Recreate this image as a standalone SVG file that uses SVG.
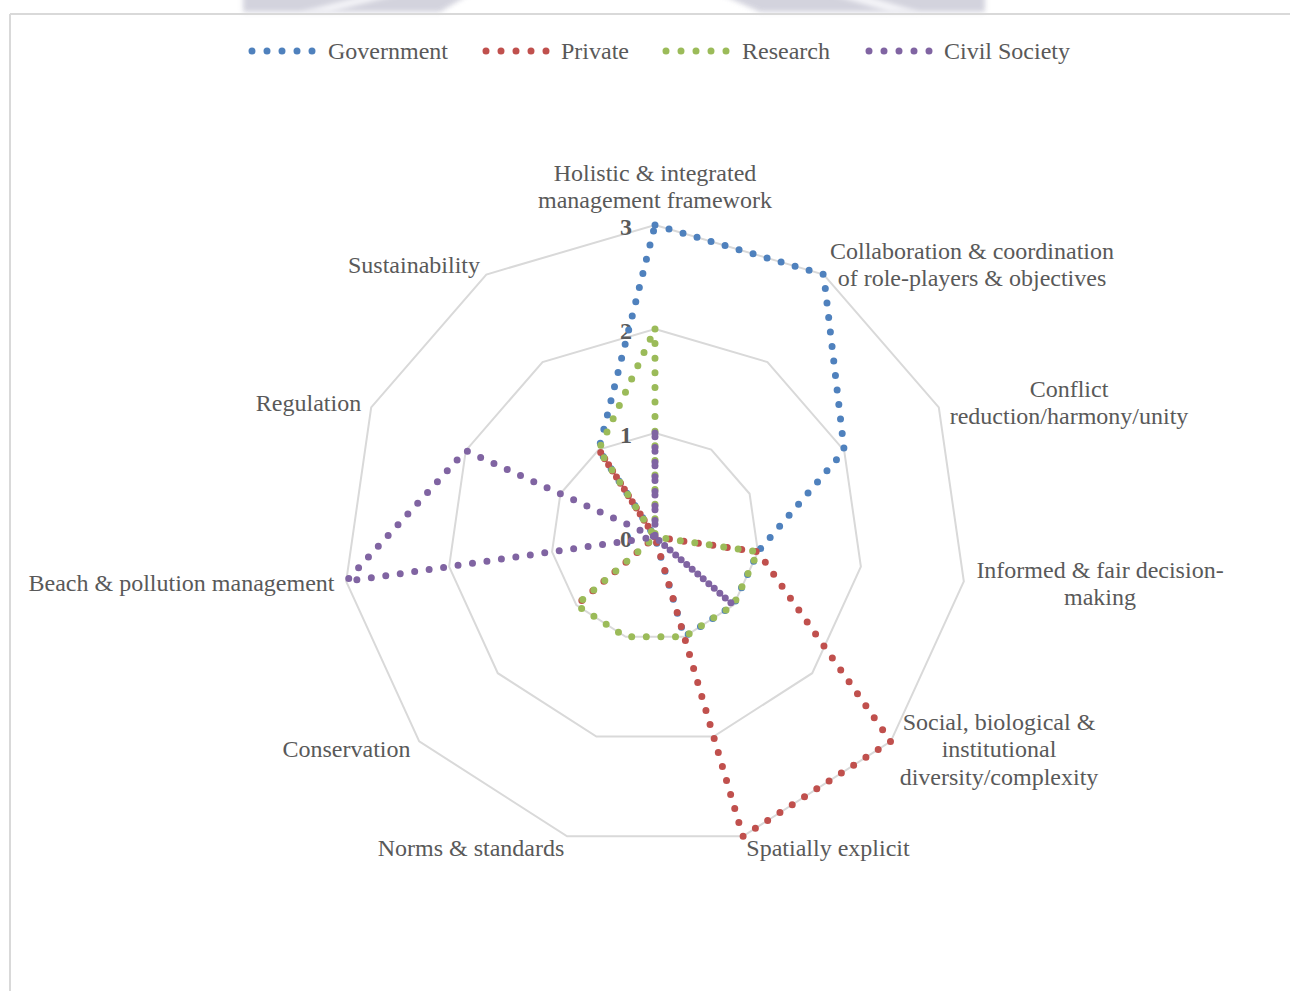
<svg xmlns="http://www.w3.org/2000/svg" width="1290" height="991" viewBox="0 0 1290 991">
<defs>
<filter id="blur" x="-10%" y="-100%" width="120%" height="300%"><feGaussianBlur stdDeviation="2.5"/></filter>
<style>
.lbl{font-family:"Liberation Serif","Times New Roman",serif;font-size:24px;fill:#595959;text-anchor:middle}
.leg{font-family:"Liberation Serif","Times New Roman",serif;font-size:24px;fill:#595959}
.tick{font-family:"Liberation Serif","Times New Roman",serif;font-size:24px;font-weight:bold;fill:#595959;text-anchor:end}
.grid{fill:none;stroke:#d9d9d9;stroke-width:2}
.ser{fill:none;stroke-width:7;stroke-linecap:round;stroke-linejoin:round;stroke-dasharray:0 14.6}
.gov{stroke:#4f81bd}.pri{stroke:#c0504d}.res{stroke:#9bbb59}.civ{stroke:#8064a2}
</style>
</defs>
<rect width="1290" height="991" fill="#ffffff"/>
<g id="watermark" filter="url(#blur)" fill="#cfcfda" opacity="0.9">
<polygon points="243,-6 470,-6 440,12 243,12"/>
<polygon points="720,-6 985,-6 985,12 760,12"/>
</g>
<g id="watermark-streaks" filter="url(#blur)" fill="#f4f4f8">
<polygon points="300,12 330,12 400,-6 370,-6"/>
<polygon points="830,-6 860,-6 920,12 890,12"/>
</g>
<g id="frame">
<line x1="10" y1="14" x2="1290" y2="14" stroke="#d9d9d9" stroke-width="2"/>
<line x1="10" y1="14" x2="10" y2="991" stroke="#d9d9d9" stroke-width="2"/>
</g>
<g id="grid">
<polygon class="grid" points="655,433 711.23,449.51 749.60,493.80 757.94,551.80 733.60,605.11 684.30,636.79 625.70,636.79 576.40,605.11 552.06,551.80 560.40,493.80 598.77,449.51"/>
<polygon class="grid" points="655,329 767.45,362.02 844.20,450.59 860.88,566.60 812.20,673.21 713.60,736.57 596.40,736.57 497.80,673.21 449.12,566.60 465.80,450.59 542.55,362.02"/>
<polygon class="grid" points="655,225 823.68,274.53 938.80,407.39 963.82,581.40 890.79,741.32 742.90,836.36 567.10,836.36 419.21,741.32 346.18,581.40 371.20,407.39 486.32,274.53"/>
</g>
<g id="ticks">
<text class="tick" x="632" y="235">3</text>
<text class="tick" x="632" y="339">2</text>
<text class="tick" x="632" y="443">1</text>
<text class="tick" x="632" y="547">0</text>
</g>
<g id="series">
<path id="government" class="ser gov" d="M655,225 L823.68,274.53 L844.20,450.59 L757.94,551.80 L733.60,605.11 L684.30,636.79 L655,537 L655,537 L655,537 L655,537 L598.77,449.51 Z"/>
<path id="private" class="ser pri" d="M655,537 L655,537 L655,537 L757.94,551.80 L890.79,741.32 L742.90,836.36 L655,537 L576.40,605.11 L655,537 L655,537 L598.77,449.51 Z"/>
<path id="research" class="ser res" d="M655,329 L655,537 L655,537 L757.94,551.80 L733.60,605.11 L684.30,636.79 L625.70,636.79 L576.40,605.11 L655,537 L655,537 L598.77,449.51 Z"/>
<path id="civil-society" class="ser civ" d="M655,433 L655,537 L655,537 L655,537 L733.60,605.11 L655,537 L655,537 L655,537 L346.18,581.40 L465.80,450.59 L655,537 Z"/>
</g>
<g id="axis-labels">
<g id="lbl-holistic"><text class="lbl" x="655" y="181">Holistic &amp; integrated</text><text class="lbl" x="655" y="208">management framework</text></g>
<g id="lbl-collaboration"><text class="lbl" x="972" y="259">Collaboration &amp; coordination</text><text class="lbl" x="972" y="286">of role-players &amp; objectives</text></g>
<g id="lbl-conflict"><text class="lbl" x="1069" y="397">Conflict</text><text class="lbl" x="1069" y="424">reduction/harmony/unity</text></g>
<g id="lbl-informed"><text class="lbl" x="1100" y="578">Informed &amp; fair decision-</text><text class="lbl" x="1100" y="605">making</text></g>
<g id="lbl-social"><text class="lbl" x="999" y="730">Social, biological &amp;</text><text class="lbl" x="999" y="757">institutional</text><text class="lbl" x="999" y="785">diversity/complexity</text></g>
<g id="lbl-spatial"><text class="lbl" x="828" y="856">Spatially explicit</text></g>
<g id="lbl-norms"><text class="lbl" x="471" y="856">Norms &amp; standards</text></g>
<g id="lbl-conservation"><text class="lbl" x="346.5" y="757">Conservation</text></g>
<g id="lbl-beach"><text class="lbl" x="181.5" y="591">Beach &amp; pollution management</text></g>
<g id="lbl-regulation"><text class="lbl" x="308.5" y="411">Regulation</text></g>
<g id="lbl-sustainability"><text class="lbl" x="414" y="273">Sustainability</text></g>
</g>
<g id="legend">
<g id="leg-gov"><line class="ser gov" x1="252" y1="51" x2="313" y2="51" style="stroke-dasharray:0 15"/><text class="leg" x="328" y="59">Government</text></g>
<g id="leg-pri"><line class="ser pri" x1="486" y1="51" x2="547" y2="51" style="stroke-dasharray:0 15"/><text class="leg" x="561" y="59">Private</text></g>
<g id="leg-res"><line class="ser res" x1="666" y1="51" x2="727" y2="51" style="stroke-dasharray:0 15"/><text class="leg" x="742" y="59">Research</text></g>
<g id="leg-civ"><line class="ser civ" x1="869" y1="51" x2="930" y2="51" style="stroke-dasharray:0 15"/><text class="leg" x="944" y="59">Civil Society</text></g>
</g>
</svg>
